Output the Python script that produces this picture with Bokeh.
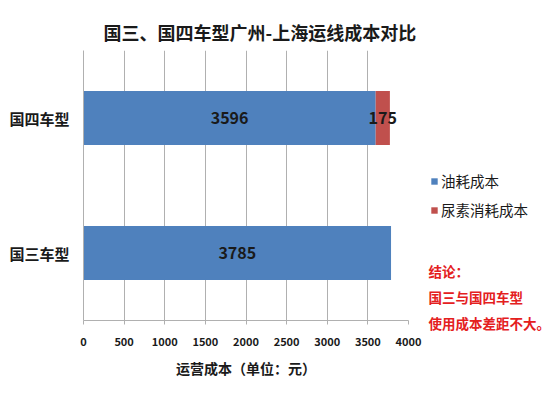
from bokeh.plotting import figure
from bokeh.layouts import row, column
from bokeh.models import ColumnDataSource, Legend, LegendItem, Label, LabelSet, Title
from bokeh.embed import file_html
from bokeh.resources import INLINE
from bokeh.core.properties import value

categories = ["国三车型", "国四车型"]
fuel_cost = [3785, 3596]
urea_cost = [0, 175]
series_names = ["油耗成本", "尿素消耗成本"]
x_ticks = [0, 500, 1000, 1500, 2000, 2500, 3000, 3500, 4000]
title_text = "国三、国四车型广州-上海运线成本对比"
x_title = "运营成本（单位：元）"
conclusion = ["结论：", "国三与国四车型", "使用成本差距不大。"]

CJK = "Noto Sans CJK SC"
BLUE = "#4f81bd"
RED = "#c0504d"
DARK = "#1a1a1a"
GRID = "#b0b0b0"
CONC = "#e4201e"

fuel_src = ColumnDataSource(dict(
    cat=categories,
    left=[0] * len(categories),
    right=fuel_cost,
    mid=[f / 2 for f in fuel_cost],
    txt=[str(f) for f in fuel_cost],
))
idx = [i for i, u in enumerate(urea_cost) if u > 0]
urea_src = ColumnDataSource(dict(
    cat=[categories[i] for i in idx],
    left=[fuel_cost[i] for i in idx],
    right=[fuel_cost[i] + urea_cost[i] for i in idx],
    mid=[fuel_cost[i] + urea_cost[i] / 2 for i in idx],
    txt=[str(urea_cost[i]) for i in idx],
))

p = figure(width=424, height=393, y_range=categories,
           x_range=(x_ticks[0], x_ticks[-1]),
           output_backend="svg", toolbar_location=None,
           min_border_left=83, min_border_right=16, min_border_top=50,
           min_border_bottom=73)
p.outline_line_color = None

p.hbar(y="cat", left="left", right="right", height=0.4, source=fuel_src,
       fill_color=BLUE, line_color=None)
p.hbar(y="cat", left="left", right="right", height=0.4, source=urea_src,
       fill_color=RED, line_color=None)

for s in (fuel_src, urea_src):
    p.add_layout(LabelSet(x="mid", y="cat", text="txt", source=s,
                          text_align="center", text_baseline="middle",
                          text_font=value(CJK), text_font_size="16px",
                          text_font_style="bold", text_color=DARK))

p.xaxis.ticker = x_ticks
p.xgrid.grid_line_color = GRID
p.ygrid.grid_line_color = None
p.xaxis.axis_line_color = GRID
p.xaxis.major_tick_line_color = GRID
p.xaxis.major_tick_out = 4
p.xaxis.major_tick_in = 0
p.xaxis.minor_tick_line_color = None
p.xaxis.major_label_text_font = CJK
p.xaxis.major_label_text_font_size = "11px"
p.xaxis.major_label_text_font_style = "bold"
p.xaxis.major_label_text_color = DARK
p.xaxis.major_label_standoff = 12
p.xaxis.axis_label = x_title
p.xaxis.axis_label_text_font = CJK
p.xaxis.axis_label_text_font_size = "14px"
p.xaxis.axis_label_text_font_style = "bold"
p.xaxis.axis_label_text_color = DARK
p.xaxis.axis_label_standoff = 9

p.yaxis.axis_line_color = GRID
p.yaxis.major_tick_line_color = None
p.yaxis.minor_tick_line_color = None
p.yaxis.major_label_text_font = CJK
p.yaxis.major_label_text_font_size = "15px"
p.yaxis.major_label_text_font_style = "bold"
p.yaxis.major_label_text_color = DARK
p.yaxis.major_label_standoff = 8

p.title = Title(text=title_text, align="left", offset=20,
                vertical_align="middle",
                text_font=CJK, text_font_size="18px", text_font_style="bold",
                text_color=DARK)

# side panel with legend and conclusion; its swatch renderers reuse the
# series data but sit outside the side panel's visible x range
side = figure(width=126, height=393, output_backend="svg", toolbar_location=None,
              min_border=0, x_range=(-2, -1), y_range=categories)
side.outline_line_color = None
side.axis.visible = False
side.grid.grid_line_color = None
g1 = side.hbar(y="cat", left="left", right="right", height=0.4,
               source=fuel_src, fill_color=BLUE, line_color=None)
g2 = side.hbar(y="cat", left="left", right="right", height=0.4,
               source=urea_src, fill_color=RED, line_color=None)
legend = Legend(items=[LegendItem(label=series_names[0], renderers=[g1]),
                       LegendItem(label=series_names[1], renderers=[g2])],
                location=(6, 173), border_line_color=None,
                background_fill_alpha=0, padding=0, margin=0,
                label_text_font=CJK, label_text_font_size="14.5px",
                label_text_color=DARK, glyph_width=8, glyph_height=8,
                label_height=19, label_standoff=3, spacing=8)
side.add_layout(legend, "center")

for i, t in enumerate(conclusion):
    side.add_layout(Label(x=4, y=123 - i * 26, x_units="screen", y_units="screen",
                          text=t, text_font=CJK, text_font_size="13.5px",
                          text_font_style="bold", text_color=CONC,
                          text_baseline="middle"))

layout = row(p, column(side, spacing=0), spacing=0)
open("out.html", "w").write(file_html(layout, INLINE))
